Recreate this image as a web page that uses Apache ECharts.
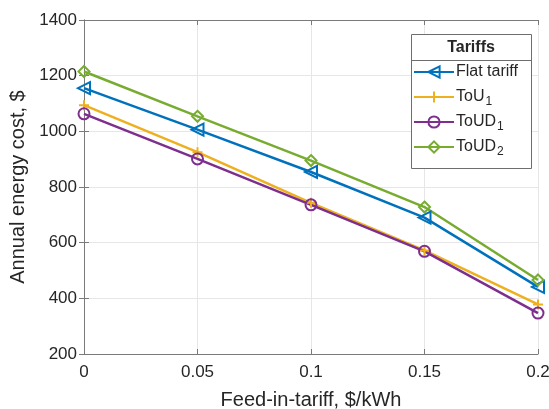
<!doctype html>
<html lang="en">
<head>
<meta charset="UTF-8">
<title>Annual energy cost vs feed-in tariff</title>
<script src="https://cdn.jsdelivr.net/npm/echarts@6/dist/echarts.min.js"></script>
<style>
  html, body { margin: 0; padding: 0; background: #fff; }
  #main { width: 549px; height: 409px; }
</style>
</head>
<body>
<div id="main"></div>
<script>
// feed-in tariff, $/kWh
var feedIn = [0, 0.05, 0.1, 0.15, 0.2];
// annual energy cost, $
var flatTariff = [1155, 1006, 854, 690, 441];
var tou1 = [1094, 925, 743, 572, 378];
var toud1 = [1063, 901, 736, 569, 347];
var toud2 = [1215, 1054, 895, 728, 466];
var xTicks = ['0', '0.05', '0.1', '0.15', '0.2'];

var FONT = '"Liberation Sans", Arial, Helvetica, sans-serif';
var TXT = '#262626';

function pairs(ys) {
    var out = [];
    for (var i = 0; i < feedIn.length; i++) out.push([feedIn[i], ys[i]]);
    return out;
}

function mkSeries(name, ys, color, symbol, size, rotate) {
    return {
        name: name,
        type: 'line',
        data: pairs(ys),
        symbol: symbol,
        symbolSize: size,
        symbolRotate: rotate || 0,
        showAllSymbol: true,
        lineStyle: { color: color, width: 2.5 },
        itemStyle: { color: 'rgba(255,255,255,0)', borderColor: color, borderWidth: 2 },
        emphasis: { disabled: true },
        animation: false
    };
}

var plus = 'path://M5,0 L5,10 M0,5 L10,5';

var myChart = echarts.init(document.getElementById('main'));
var option = {
    backgroundColor: '#fff',
    textStyle: { fontFamily: FONT },
    grid: { left: 84, top: 20, right: 11, bottom: 55, outerBoundsMode: 'none', containLabel: false },
    xAxis: [{
        type: 'value', min: 0, max: 0.2, interval: 0.05,
        name: 'Feed-in-tariff, $/kWh', nameLocation: 'middle', nameGap: 36,
        nameTextStyle: { color: TXT, fontSize: 20, fontFamily: FONT },
        axisLine: { lineStyle: { color: '#7a7a7a', width: 1 } },
        axisTick: { inside: true, length: 5, lineStyle: { color: '#7a7a7a' } },
        axisLabel: { color: TXT, fontSize: 17, margin: 10, fontFamily: FONT,
            formatter: function (v) { return xTicks[Math.round(v / 0.05)]; } },
        splitLine: { show: true, lineStyle: { color: '#e6e6e6', width: 1 } }
    }, {
        type: 'value', position: 'top', min: 0, max: 0.2, interval: 0.05,
        axisLine: { show: true, lineStyle: { color: '#7a7a7a', width: 1 } },
        axisTick: { inside: true, length: 5, lineStyle: { color: '#7a7a7a' } },
        axisLabel: { show: false }, splitLine: { show: false }
    }],
    yAxis: [{
        type: 'value', min: 200, max: 1400, interval: 200,
        name: 'Annual energy cost, $', nameLocation: 'middle', nameGap: 50,
        nameTextStyle: { color: TXT, fontSize: 20, fontFamily: FONT },
        axisLine: { show: true, lineStyle: { color: '#7a7a7a', width: 1 } },
        axisTick: { show: true, inside: true, length: 5, lineStyle: { color: '#7a7a7a' } },
        axisLabel: { color: TXT, fontSize: 17, margin: 7, fontFamily: FONT,
            formatter: function (v) { return String(v); } },
        splitLine: { show: true, lineStyle: { color: '#e6e6e6', width: 1 } }
    }, {
        type: 'value', position: 'right', min: 200, max: 1400, interval: 200,
        axisLine: { show: true, lineStyle: { color: '#7a7a7a', width: 1 } },
        axisTick: { show: true, inside: true, length: 5, lineStyle: { color: '#7a7a7a' } },
        axisLabel: { show: false }, splitLine: { show: false }
    }],
    graphic: [{
        type: 'rect', z: 90,
        shape: { x: 411.5, y: 34.5, width: 120, height: 134 },
        style: { fill: '#fff', stroke: '#6e6e6e', lineWidth: 1 }
    }, {
        type: 'line', z: 91,
        shape: { x1: 411.5, y1: 60.5, x2: 531.5, y2: 60.5 },
        style: { stroke: '#6e6e6e', lineWidth: 1 }
    }, {
        type: 'text', z: 91, x: 471, y: 48,
        style: { text: 'Tariffs', fill: TXT, font: 'bold 16px ' + FONT, align: 'center', verticalAlign: 'middle' }
    }],
    legend: {
        orient: 'vertical', left: 413, top: 61, z: 95,
        padding: 0, itemWidth: 40, itemHeight: 14, itemGap: 3,
        selectedMode: false,
        data: ['Flat tariff', 'ToU1', 'ToUD1', 'ToUD2'],
        formatter: function (n) {
            if (n === 'Flat tariff') return '{m|Flat tariff}';
            return '{m|' + n.slice(0, -1) + '}{s|' + n.slice(-1) + '}';
        },
        textStyle: {
            color: TXT, fontFamily: FONT, padding: [0, 0, 0, -3], lineHeight: 22,
            rich: {
                m: { fontSize: 16, lineHeight: 22, color: TXT, fontFamily: FONT },
                s: { fontSize: 12, lineHeight: 1, color: TXT, fontFamily: FONT, verticalAlign: 'bottom', padding: [0, 0, 0, 1] }
            }
        }
    },
    series: [
        mkSeries('Flat tariff', flatTariff, '#0072BD', 'triangle', 12, 90),
        mkSeries('ToU1', tou1, '#EDB120', plus, 10),
        mkSeries('ToUD1', toud1, '#7E2F8E', 'circle', 11),
        mkSeries('ToUD2', toud2, '#77AC30', 'diamond', 11)
    ]
};
myChart.setOption(option);
</script>
</body>
</html>
